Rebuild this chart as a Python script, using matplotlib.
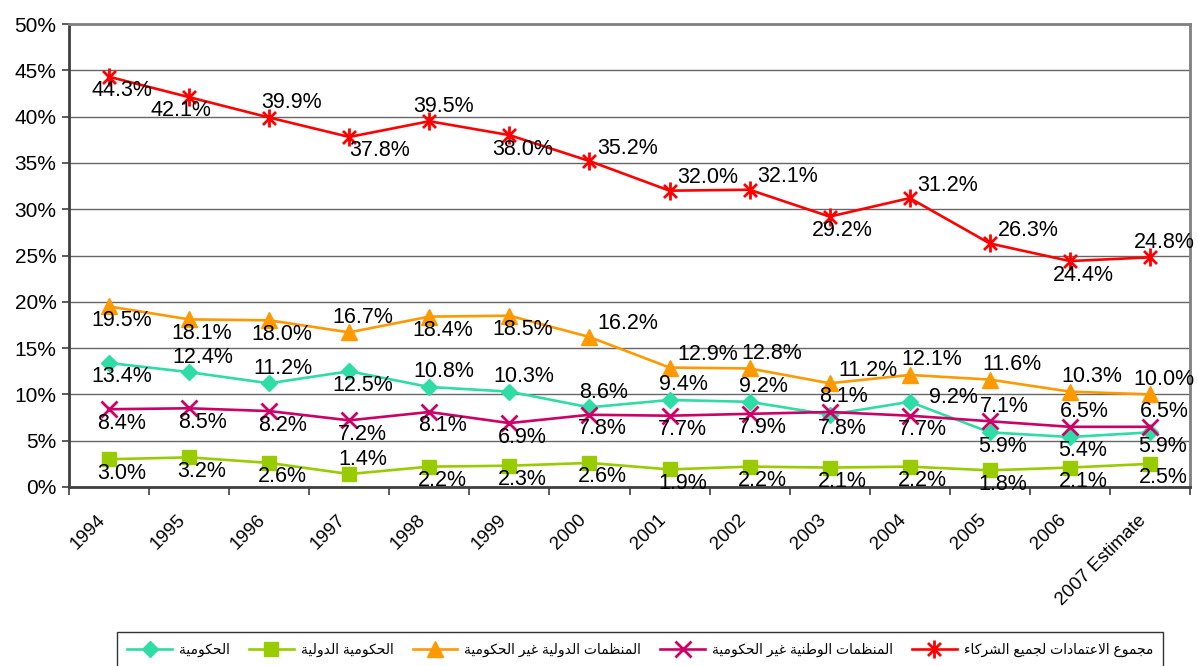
import matplotlib
matplotlib.use("Agg")
import matplotlib.pyplot as plt
from matplotlib.path import Path
from matplotlib.transforms import ScaledTranslation

plt.rcParams['font.family'] = ['Liberation Sans', 'DejaVu Sans']

years = ['1994', '1995', '1996', '1997', '1998', '1999', '2000', '2001',
         '2002', '2003', '2004', '2005', '2006', '2007 Estimate']

gov = [13.4, 12.4, 11.2, 12.5, 10.8, 10.3, 8.6, 9.4, 9.2, 7.8, 9.2, 5.9, 5.4, 5.9]
intergov = [3.0, 3.2, 2.6, 1.4, 2.2, 2.3, 2.6, 1.9, 2.2, 2.1, 2.2, 1.8, 2.1, 2.5]
intl_ngo = [19.5, 18.1, 18.0, 16.7, 18.4, 18.5, 16.2, 12.9, 12.8, 11.2, 12.1, 11.6, 10.3, 10.0]
nat_ngo = [8.4, 8.5, 8.2, 7.2, 8.1, 6.9, 7.8, 7.7, 7.9, 8.1, 7.7, 7.1, 6.5, 6.5]
total = [44.3, 42.1, 39.9, 37.8, 39.5, 38.0, 35.2, 32.0, 32.1, 29.2, 31.2, 26.3, 24.4, 24.8]

names = ['الحكومية', 'الحكومية الدولية', 'المنظمات الدولية غير الحكومية',
         'المنظمات الوطنية غير الحكومية', 'مجموع الاعتمادات لجميع الشركاء']

y_ticks = [0, 5, 10, 15, 20, 25, 30, 35, 40, 45, 50]

# where each data label sits relative to its marker
pos_gov = ['b', 'a', 'a', 'b', 'a', 'a', 'a', 'a', 'a', 'b', 'r', 'b', 'b', 'b']
pos_intergov = ['b', 'b', 'b', 'a', 'b', 'b', 'b', 'b', 'b', 'b', 'b', 'b', 'b', 'b']
pos_intl = ['b', 'b', 'b', 'a', 'b', 'b', 'ar', 'ar', 'a2', 'ar', 'a2', 'a2', 'a2', 'a']
pos_nat = ['b', 'b', 'b', 'b', 'b', 'b', 'b', 'b', 'b', 'a', 'b', 'a', 'a', 'a']
pos_total = ['b', 'bl', 'a2', 'br', 'a', 'b', 'ar', 'ar', 'ar', 'b', 'ar', 'ar', 'b', 'a']
OFF = {'a': (14, 15), 'b': (13, -14), 'ar': (38, 13), 'br': (30, -14),
       'bl': (-8, -13), 'r': (44, 4), 'a2': (22, 15)}

# minimal arabic shaping (presentation forms) since matplotlib has no RTL support
FORMS = {
    'ء': ('\uFE80', None, None, None),
    'ا': ('\uFE8D', '\uFE8E', None, None),
    'ة': ('\uFE93', '\uFE94', None, None),
    'ت': ('\uFE95', '\uFE96', '\uFE97', '\uFE98'),
    'ج': ('\uFE9D', '\uFE9E', '\uFE9F', '\uFEA0'),
    'ح': ('\uFEA1', '\uFEA2', '\uFEA3', '\uFEA4'),
    'د': ('\uFEA9', '\uFEAA', None, None),
    'ر': ('\uFEAD', '\uFEAE', None, None),
    'ش': ('\uFEB5', '\uFEB6', '\uFEB7', '\uFEB8'),
    'ط': ('\uFEC1', '\uFEC2', '\uFEC3', '\uFEC4'),
    'ظ': ('\uFEC5', '\uFEC6', '\uFEC7', '\uFEC8'),
    'ع': ('\uFEC9', '\uFECA', '\uFECB', '\uFECC'),
    'غ': ('\uFECD', '\uFECE', '\uFECF', '\uFED0'),
    'ك': ('\uFED9', '\uFEDA', '\uFEDB', '\uFEDC'),
    'ل': ('\uFEDD', '\uFEDE', '\uFEDF', '\uFEE0'),
    'م': ('\uFEE1', '\uFEE2', '\uFEE3', '\uFEE4'),
    'ن': ('\uFEE5', '\uFEE6', '\uFEE7', '\uFEE8'),
    'و': ('\uFEED', '\uFEEE', None, None),
    'ي': ('\uFEF1', '\uFEF2', '\uFEF3', '\uFEF4'),
    'LA': ('\uFEFB', '\uFEFC', None, None),
}


def shape(s):
    units = []
    i = 0
    while i < len(s):
        if s[i] == 'ل' and i + 1 < len(s) and s[i + 1] == 'ا':
            units.append('LA')
            i += 2
        else:
            units.append(s[i])
            i += 1
    out = []
    for k, u in enumerate(units):
        if u not in FORMS:
            out.append(u)
            continue
        iso, fin, ini, med = FORMS[u]
        prev = units[k - 1] if k > 0 else None
        nxt = units[k + 1] if k + 1 < len(units) else None
        jp = fin is not None and prev in FORMS and FORMS[prev][2] is not None
        jn = ini is not None and nxt in FORMS and FORMS[nxt][1] is not None
        if jp and jn:
            out.append(med)
        elif jp:
            out.append(fin)
        elif jn:
            out.append(ini)
        else:
            out.append(iso)
    return ''.join(reversed(out))


star = Path([(0, -1), (0, 1), (-0.72, -0.72), (0.72, 0.72), (-0.72, 0.72), (0.72, -0.72)],
            [Path.MOVETO, Path.LINETO, Path.MOVETO, Path.LINETO, Path.MOVETO, Path.LINETO])

fig = plt.figure(figsize=(11.98, 6.66), dpi=100)
ax = fig.add_axes([69 / 1198, 1 - 487 / 666, (1190 - 69) / 1198, (487 - 24) / 666])

x = list(range(len(years)))
series = [
    (gov, '#2EDCA6', 'D', 8, 1, pos_gov),
    (intergov, '#99CC00', 's', 10, 1, pos_intergov),
    (intl_ngo, '#FF9900', '^', 11, 1, pos_intl),
    (nat_ngo, '#CC0066', 'x', 11, 2, pos_nat),
    (total, '#FF0000', star, 13, 2, pos_total),
]

for (vals, col, mk, ms, mew, pos), name in zip(series, names):
    ax.plot(x, vals, color=col, lw=1.9, marker=mk, ms=ms, mew=mew,
            mfc=col, mec=col, label=shape(name), zorder=3)
    for xi, v, p in zip(x, vals, pos):
        dx, dy = OFF[p]
        ax.annotate(f"{v:.1f}%", (xi, v), xytext=(dx, dy), textcoords='offset pixels',
                    ha='center', va='center', fontsize=15.5, color='black', zorder=4)

ax.set_xlim(-0.5, len(years) - 0.5)
ax.set_ylim(0, 50)
ax.set_yticks(y_ticks)
ax.set_yticklabels([f"{t}%" for t in y_ticks], fontsize=15)
ax.tick_params(axis='y', length=5, width=1.2, color='#404040', pad=4)
ax.grid(axis='y', color='#666666', lw=1)
ax.set_axisbelow(True)

ax.set_xticks(x)
ax.set_xticklabels(years, fontsize=13.5, rotation=45, ha='right', va='center',
                   rotation_mode='anchor')
ax.set_xticks([i - 0.5 for i in range(len(years) + 1)], minor=True)
ax.tick_params(axis='x', which='major', length=0, pad=22)
ax.tick_params(axis='x', which='minor', length=6, width=1.2, color='#404040')
shift = ScaledTranslation(-6 / 100, 0, fig.dpi_scale_trans)
for lab in ax.get_xticklabels():
    lab.set_transform(lab.get_transform() + shift)

for side in ['left', 'bottom']:
    ax.spines[side].set_color('#404040')
    ax.spines[side].set_linewidth(2)
for side in ['top', 'right']:
    ax.spines[side].set_color('#808080')
    ax.spines[side].set_linewidth(2)

leg = fig.legend(loc='upper left', bbox_to_anchor=(117 / 1198, 1 - 632 / 666),
                 ncol=5, fontsize=10, frameon=True, fancybox=False, edgecolor='black',
                 handlelength=3.2, borderpad=0.75, handletextpad=0.5, columnspacing=1.4,
                 borderaxespad=0)
leg.get_frame().set_linewidth(1)

fig.savefig('out.png', dpi=100)
